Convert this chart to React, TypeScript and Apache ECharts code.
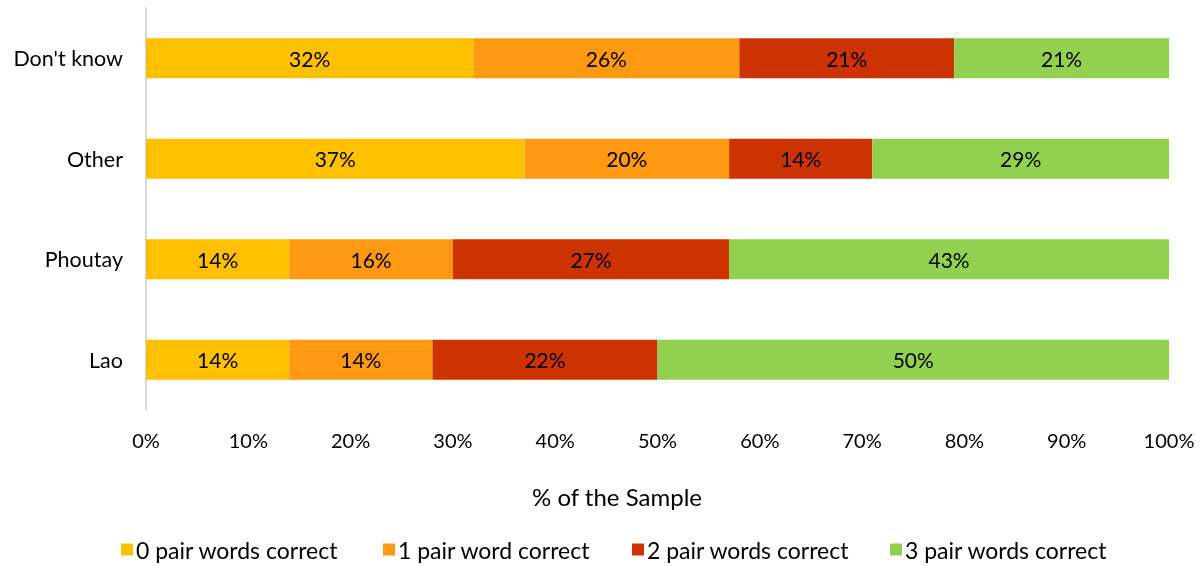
import React, { useEffect, useRef } from "react";
import * as echarts from "echarts";

// Categories bottom-to-top as the y axis lays them out
const categories = ["Lao", "Phoutay", "Other", "Don't know"];
const seriesNames = [
  "0 pair words correct",
  "1 pair word correct",
  "2 pair words correct",
  "3 pair words correct",
];
const zeroCorrect = [14, 14, 37, 32];
const oneCorrect = [14, 16, 20, 26];
const twoCorrect = [22, 27, 14, 21];
const threeCorrect = [50, 43, 29, 21];
const colors = ["#FFC000", "#FF9912", "#CC3300", "#92D050"];
const xTicks = [0, 10, 20, 30, 40, 50, 60, 70, 80, 90, 100];
const legendLefts = [121, 383, 632, 890];

const FONT = "Lato";

export default function App() {
  const ref = useRef<HTMLDivElement>(null);

  useEffect(() => {
    if (!ref.current) return;
    const chart = echarts.init(ref.current, null, { renderer: "svg" });
    const values = [zeroCorrect, oneCorrect, twoCorrect, threeCorrect];
    chart.setOption({
      animation: false,
      textStyle: { fontFamily: FONT },
      grid: { left: 146, right: 35, top: 8, bottom: 156, containLabel: false },
      xAxis: {
        type: "value",
        min: xTicks[0],
        max: xTicks[xTicks.length - 1],
        interval: 10,
        axisLabel: {
          formatter: (v: number) => `${v}%`,
          color: "#000",
          fontSize: 20,
          fontFamily: FONT,
          margin: 20,
        },
        axisLine: { show: false },
        axisTick: { show: false },
        splitLine: { show: false },
      },
      yAxis: {
        type: "category",
        data: categories,
        axisLabel: { color: "#000", fontSize: 21.5, fontFamily: FONT, margin: 23 },
        axisLine: { show: true, lineStyle: { color: "#D9D9D9", width: 2 } },
        axisTick: { show: false },
      },
      legend: seriesNames.map((name, i) => ({
        left: legendLefts[i],
        top: 538,
        padding: 0,
        itemWidth: 12,
        itemHeight: 12,
        icon: "rect",
        textStyle: { color: "#000", fontSize: 23, fontFamily: FONT, padding: [0, 0, 0, -2] },
        data: [name],
      })),
      graphic: [
        {
          type: "text",
          x: 617,
          y: 496,
          style: {
            text: "% of the Sample",
            fill: "#000",
            font: `24px ${FONT}`,
            textAlign: "center",
            textVerticalAlign: "middle",
          },
        },
      ],
      series: seriesNames.map((name, i) => ({
        name,
        type: "bar",
        stack: "total",
        barWidth: 40,
        itemStyle: { color: colors[i] },
        label: {
          show: true,
          position: "inside",
          formatter: (p: any) => `${p.value}%`,
          color: "#000",
          fontSize: 21,
          fontFamily: FONT,
        },
        data: values[i],
      })),
    });
    return () => chart.dispose();
  }, []);

  return (
    <div
      ref={ref}
      style={{ position: "fixed", left: 0, top: 0, width: 1204, height: 566 }}
    />
  );
}
